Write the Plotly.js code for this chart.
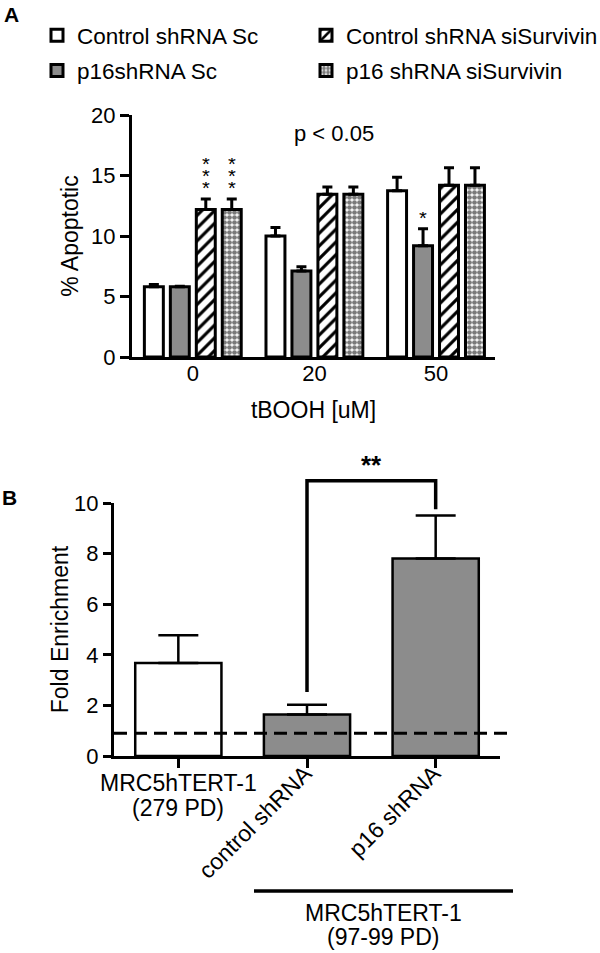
<!DOCTYPE html>
<html>
<head>
<meta charset="utf-8">
<script src="https://cdn.plot.ly/plotly-3.0.1.min.js"></script>
<style>html,body{margin:0;padding:0;background:#fff;}#chart{width:600px;height:953px;}</style>
</head>
<body>
<div id="chart"></div>
<script>
// ---------- Panel A data ----------
const doseLabels = ['0', '20', '50'];
const seriesA = ['Control shRNA Sc', 'p16shRNA Sc', 'Control shRNA siSurvivin', 'p16 shRNA siSurvivin'];
const ctrlSc = [5.8, 10.0, 13.75];
const ctrlScErr = [0.2, 0.7, 1.1];
const p16Sc = [5.8, 7.1, 9.2];
const p16ScErr = [0.05, 0.35, 1.4];
const ctrlSi = [12.2, 13.45, 14.2];
const ctrlSiErr = [0.85, 0.6, 1.45];
const p16Si = [12.2, 13.45, 14.2];
const p16SiErr = [0.85, 0.6, 1.45];
// significance marks: [group index, series index, text]
const starsA = [[0, 2, '***'], [0, 3, '***'], [2, 1, '*']];
const pText = 'p < 0.05';

// ---------- Panel B data ----------
const cellLines = ['MRC5hTERT-1 (279 PD)', 'control shRNA', 'p16 shRNA'];
const foldEnrich = [3.68, 1.64, 7.81];
const foldErr = [1.09, 0.39, 1.7];
const baselineB = 0.9;
const groupLabelB = ['MRC5hTERT-1', '(97-99 PD)'];
const firstLabelB = ['MRC5hTERT-1', '(279 PD)'];

const W = 600, H = 953;
const px = v => v / W;
const py = v => 1 - v / H;

const GRAY = '#8c8c8c';
const idx = [0, 1, 2];

const valsA = [ctrlSc, p16Sc, ctrlSi, p16Si];
const errsA = [ctrlScErr, p16ScErr, ctrlSiErr, p16SiErr];
const fills = [
  {color: '#ffffff'},
  {color: GRAY},
  {color: '#ffffff', pattern: {shape: '/', fgcolor: '#000', bgcolor: '#fff', size: 9, solidity: 0.35}},
  {color: '#ffffff', pattern: {shape: '.', fgcolor: '#7a7a7a', bgcolor: '#fff', size: 5, solidity: 0.7}}
];
const legendOf = ['legend', 'legend', 'legend2', 'legend2'];

const traces = [];
valsA.forEach((v, s) => {
  traces.push({
    type: 'bar', x: idx, y: v, name: seriesA[s], xaxis: 'x', yaxis: 'y',
    legend: legendOf[s], legendgroup: 'g' + s,
    marker: Object.assign({line: {color: '#000', width: 3}}, fills[s]),
    error_y: {type: 'data', array: errsA[s], arrayminus: [0, 0, 0], symmetric: false,
              color: '#000', thickness: 3, width: 5},
    hoverinfo: 'y'
  });
});

traces.push({
  type: 'bar', x: idx, y: foldEnrich, xaxis: 'x2', yaxis: 'y2', showlegend: false,
  marker: {color: ['#ffffff', GRAY, GRAY], line: {color: '#000', width: 2.5}},
  error_y: {type: 'data', array: foldErr, arrayminus: [0, 0, 0], symmetric: false,
            color: '#000', thickness: 2.5, width: 20},
  width: 0.67, hoverinfo: 'y'
});

// bar geometry for panel A (group mode)
const bargapA = 0.146, nSeries = 4;
const slot = (1 - bargapA) / nSeries;
const barX = (g, s) => g + (s - (nSeries - 1) / 2) * slot;

const FONT = 'Liberation Sans, Arial, sans-serif';
const txt = (size) => ({size: size, color: '#000', family: FONT});
const annotations = [];
starsA.forEach(([g, s, t]) => {
  const top = valsA[s][g] + errsA[s][g];
  const chars = t.split('');
  chars.forEach((c, k) => {
    annotations.push({xref: 'x', yref: 'y', x: barX(g, s), y: top + 0.95 + (chars.length - 1 - k) * 1.0,
      text: c, showarrow: false, font: txt(20), xanchor: 'center', yanchor: 'middle', height: 11});
  });
});
const paperText = (x, y, text, size, extra) => Object.assign({xref: 'paper', yref: 'paper', x: px(x), y: py(y),
  text: text, showarrow: false, font: txt(size), xanchor: 'center', yanchor: 'middle'}, extra || {});
annotations.push(paperText(334, 133, pText, 22));
annotations.push(paperText(11, 14, '<b>A</b>', 21));
annotations.push(paperText(9, 497, '<b>B</b>', 21));
// Panel B labels
annotations.push({xref: 'x2', yref: 'paper', x: 0, y: py(783), text: firstLabelB[0], showarrow: false,
  font: txt(23), xanchor: 'center', yanchor: 'middle'});
annotations.push({xref: 'x2', yref: 'paper', x: 0, y: py(808), text: firstLabelB[1], showarrow: false,
  font: txt(23), xanchor: 'center', yanchor: 'middle'});
annotations.push(paperText(383, 913, groupLabelB[0], 23));
annotations.push(paperText(383, 937, groupLabelB[1], 23));
// significance bracket label
const yMaxB = 10;
annotations.push({xref: 'x2', yref: 'y2 domain', x: 1.5, y: 10.88 / yMaxB, yshift: -1, yanchor: 'bottom',
  xanchor: 'center', text: '<b>**</b>', showarrow: false, font: txt(26)});

const shapes = [
  {type: 'line', xref: 'x2 domain', yref: 'y2', x0: 0, x1: 1.034, y0: baselineB, y1: baselineB,
   line: {color: '#000', width: 3, dash: '13px,7px'}},
  {type: 'path', xref: 'x2', yref: 'y2 domain',
   path: `M 1 ${2.53 / yMaxB} L 1 ${10.88 / yMaxB} L 2 ${10.88 / yMaxB} L 2 ${9.75 / yMaxB}`,
   line: {color: '#000', width: 3.5}},
  {type: 'line', xref: 'paper', yref: 'paper', x0: px(254), x1: px(513), y0: py(891), y1: py(891),
   line: {color: '#000', width: 3.5}}
];

const axCommon = {showline: true, linecolor: '#000', linewidth: 3, showgrid: false, zeroline: false,
  tickcolor: '#000', tickwidth: 3, tickfont: txt(22), fixedrange: true, automargin: false};

const legendCommon = {orientation: 'v', xanchor: 'left', yanchor: 'top', font: txt(22.5),
  itemwidth: 30, bgcolor: 'rgba(0,0,0,0)', tracegroupgap: 3, traceorder: 'grouped'};

const layout = {
  width: W, height: H, margin: {l: 0, r: 0, t: 0, b: 0, autoexpand: false},
  paper_bgcolor: '#fff', plot_bgcolor: '#fff',
  font: {family: FONT, color: '#000'},
  barmode: 'group', bargap: bargapA, bargroupgap: 0.27,
  showlegend: true,
  legend: Object.assign({x: px(37), y: py(14)}, legendCommon),
  legend2: Object.assign({x: px(306), y: py(14)}, legendCommon),
  xaxis: Object.assign({}, axCommon, {domain: [px(132), px(495)], range: [-0.5, 2.485],
    tickvals: idx, ticktext: doseLabels, ticks: '', anchor: 'y', ticklabelstandoff: -5,
    title: {text: 'tBOOH [uM]', font: txt(23), standoff: 17}}),
  yaxis: Object.assign({}, axCommon, {domain: [py(357), py(115)], range: [0, 20], dtick: 5,
    ticks: 'outside', ticklen: 9, anchor: 'x',
    title: {text: '% Apoptotic', font: txt(23), standoff: 7}}),
  xaxis2: Object.assign({}, axCommon, {domain: [px(114), px(500)], range: [-0.5, 2.5],
    tickvals: idx, ticktext: ['', cellLines[1], cellLines[2]], tickangle: -45, ticks: 'outside', ticklen: 9,
    tickfont: txt(23), ticklabelshift: -2, ticklabelstandoff: -17, anchor: 'y2'}),
  yaxis2: Object.assign({}, axCommon, {domain: [py(756), py(503)], range: [0, yMaxB], dtick: 2,
    ticks: 'outside', ticklen: 8, anchor: 'x2',
    title: {text: 'Fold Enrichment', font: txt(23), standoff: 0}}),
  annotations: annotations,
  shapes: shapes
};

Plotly.newPlot('chart', traces, layout, {staticPlot: true, displayModeBar: false});
</script>
</body>
</html>
